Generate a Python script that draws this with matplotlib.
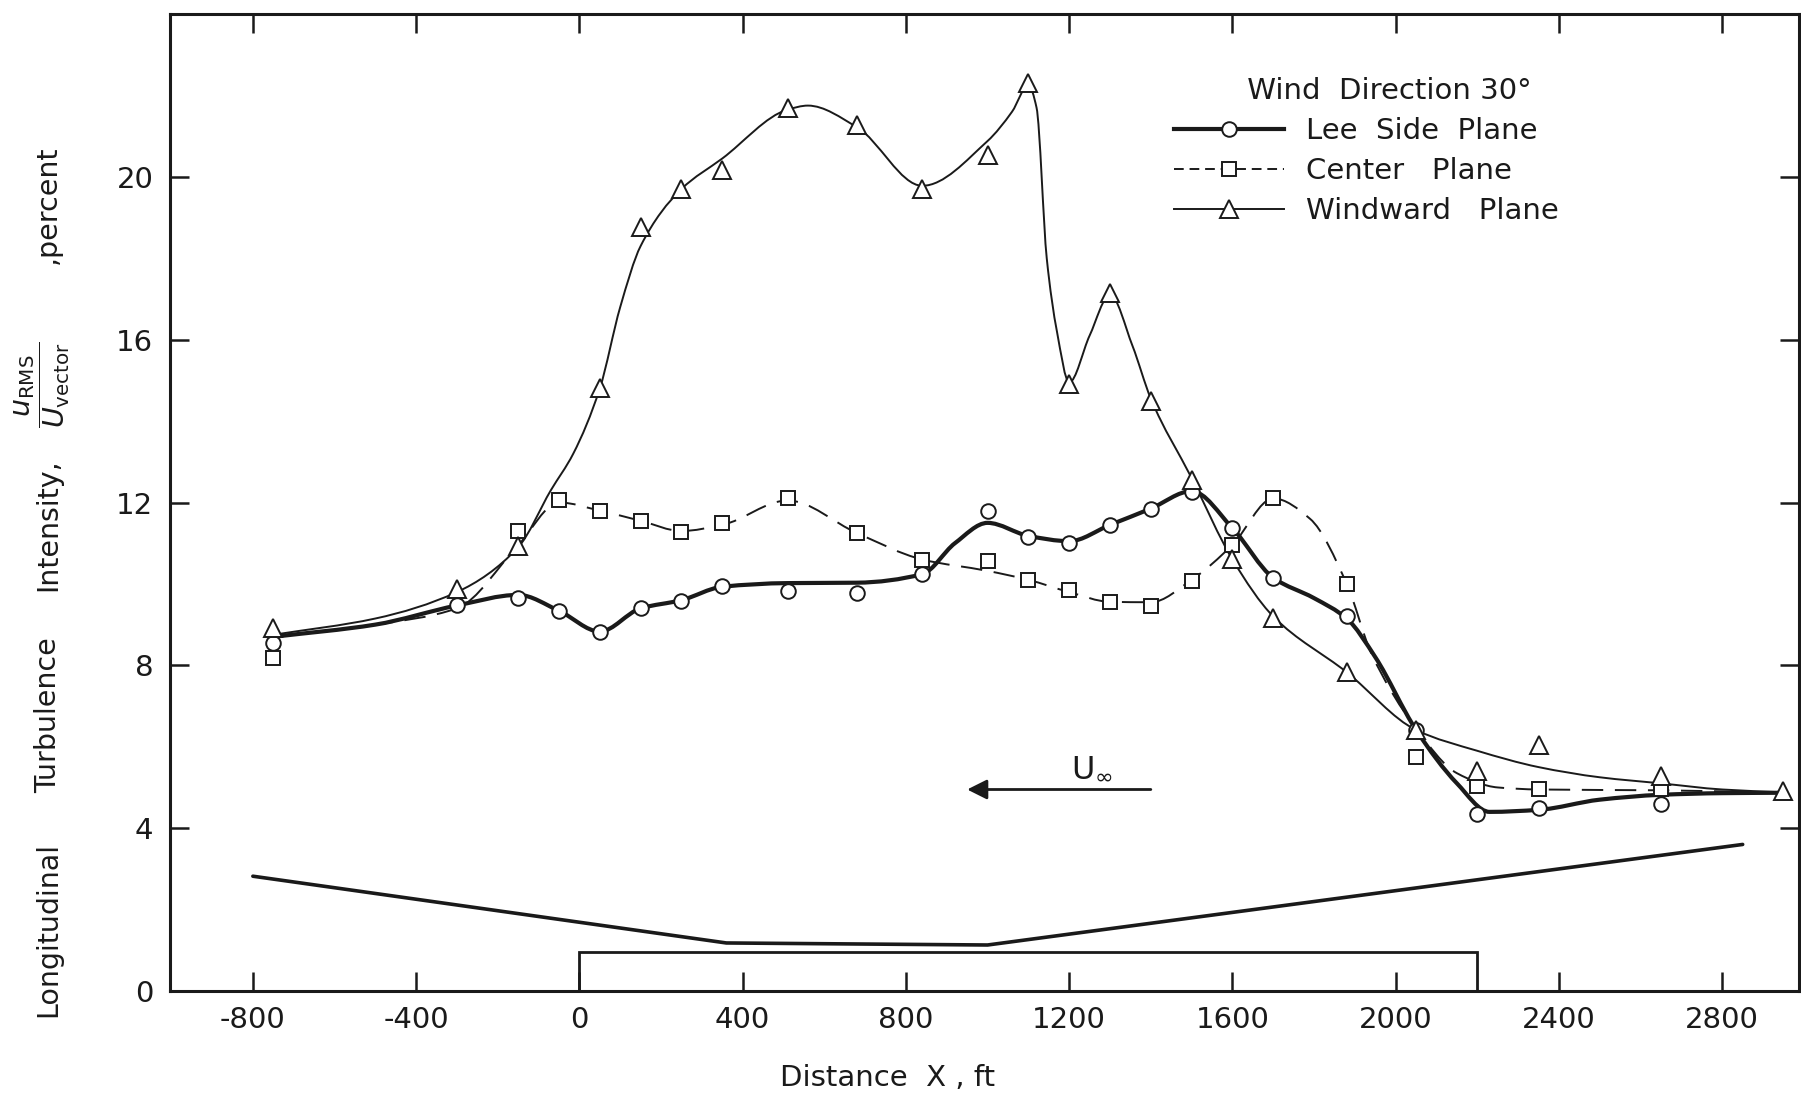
import numpy as np
import matplotlib
matplotlib.use('Agg')
import matplotlib.pyplot as plt
from matplotlib.path import Path
from matplotlib.patches import PathPatch, Rectangle
from matplotlib.lines import Line2D

plt.rcParams['font.family'] = ['DejaVu Sans']
plt.rcParams['mathtext.fontset'] = 'dejavusans'

# measured points (distance in ft, intensity in percent)
lee_x = [-750, -300, -150, -50, 50, 150, 250, 350, 510, 680, 840, 1000, 1100,
         1200, 1300, 1400, 1500, 1600, 1700, 1880, 2050, 2200, 2350, 2650]
lee_y = [8.55, 9.47, 9.65, 9.34, 8.83, 9.4, 9.57, 9.96, 9.83, 9.77, 10.24, 11.79, 11.16,
         11.0, 11.45, 11.84, 12.26, 11.37, 10.15, 9.2, 6.41, 4.35, 4.49, 4.6]

center_x = [-750, -150, -50, 50, 150, 250, 350, 510, 680, 840, 1000, 1100,
            1200, 1300, 1400, 1500, 1600, 1700, 1880, 2050, 2200, 2350, 2650]
center_y = [8.18, 11.3, 12.06, 11.79, 11.55, 11.28, 11.49, 12.1, 11.24, 10.59, 10.56, 10.1,
            9.85, 9.55, 9.45, 10.08, 10.96, 12.12, 10.0, 5.75, 5.04, 4.96, 4.96]

windward_x = [-750, -300, -150, 50, 150, 250, 350, 510, 680, 840, 1000, 1100,
              1200, 1300, 1400, 1500, 1600, 1700, 1880, 2050, 2200, 2350, 2650, 2950]
windward_y = [8.91, 9.88, 10.93, 14.81, 18.77, 19.69, 20.18, 21.69, 21.27, 19.69, 20.53, 22.3,
              14.9, 17.15, 14.5, 12.56, 10.6, 9.17, 7.83, 6.41, 5.4, 6.05, 5.28, 4.91]

# hand-faired curves
lee_curve_x = [-750, -500, -300, -150, -50, 50, 150, 250, 350, 510, 680, 840, 920, 1000,
               1100, 1200, 1300, 1400, 1500, 1600, 1700, 1800, 1880, 1950, 2050, 2150,
               2230, 2350, 2500, 2650, 2800, 2950]
lee_curve_y = [8.7, 9.0, 9.47, 9.73, 9.34, 8.83, 9.4, 9.6, 9.93, 10.02, 10.03, 10.24, 11.0, 11.5,
               11.18, 11.05, 11.45, 11.85, 12.28, 11.37, 10.15, 9.65, 9.15, 8.2, 6.41, 5.1,
               4.4, 4.45, 4.7, 4.82, 4.86, 4.87]

center_curve_x = [-750, -500, -300, -150, -50, 50, 150, 250, 350, 510, 680, 840, 1000, 1100,
                  1200, 1300, 1400, 1500, 1600, 1700, 1790, 1880, 1940, 2050, 2150, 2250,
                  2350, 2650, 2950]
center_curve_y = [8.7, 9.0, 9.4, 10.95, 12.0, 11.8, 11.55, 11.3, 11.45, 12.05, 11.25, 10.6,
                  10.32, 10.1, 9.8, 9.56, 9.55, 10.1, 10.96, 12.1, 11.6, 10.0, 8.3, 6.45, 5.35,
                  5.0, 4.95, 4.93, 4.87]

windward_curve_x = [-750, -500, -300, -150, -70, -15, 50, 100, 150, 250, 350, 510, 560, 680,
                    840, 1000, 1060, 1100, 1120, 1145, 1170, 1200, 1250, 1300, 1355, 1400,
                    1500, 1600, 1700, 1880, 2050, 2200, 2350, 2500, 2650, 2800, 2950]
windward_curve_y = [8.75, 9.15, 9.8, 10.9, 12.3, 13.2, 14.8, 16.8, 18.3, 19.7, 20.45, 21.65,
                    21.75, 21.22, 19.78, 20.88, 21.6, 22.25, 21.7, 18.0, 16.2, 14.95, 16.1,
                    17.1, 15.85, 14.55, 12.6, 10.6, 9.2, 7.83, 6.41, 5.9, 5.5, 5.25, 5.1,
                    4.95, 4.88]

# terrain profile and structure outline
terrain_x = [-800, 360, 1000, 2850]
terrain_y = [2.82, 1.18, 1.13, 3.6]
building_x = [0, 2200]
building_h = 0.95

# free stream arrow
arrow_x = [1400, 950]
arrow_y = 4.95

xticks = [-800, -400, 0, 400, 800, 1200, 1600, 2000, 2400, 2800]
xtick_labels = ['-800', '-400', '0', '400', '800', '1200', '1600', '2000', '2400', '2800']
yticks = [0, 4, 8, 12, 16, 20]


def faired_path(xs, ys):
    # monotone cubic tangents turned into bezier segments
    x = np.asarray(xs, float)
    y = np.asarray(ys, float)
    h = np.diff(x)
    d = np.diff(y) / h
    m = np.zeros_like(y)
    m[0], m[-1] = d[0], d[-1]
    for k in range(1, len(x) - 1):
        if d[k - 1] * d[k] > 0:
            w1 = 2 * h[k] + h[k - 1]
            w2 = h[k] + 2 * h[k - 1]
            m[k] = (w1 + w2) / (w1 / d[k - 1] + w2 / d[k])
    verts = [(x[0], y[0])]
    codes = [Path.MOVETO]
    for k in range(len(x) - 1):
        verts += [(x[k] + h[k] / 3, y[k] + m[k] * h[k] / 3),
                  (x[k + 1] - h[k] / 3, y[k + 1] - m[k + 1] * h[k] / 3),
                  (x[k + 1], y[k + 1])]
        codes += [Path.CURVE4] * 3
    return Path(verts, codes)


ink = '#1a1a1a'
fig = plt.figure(figsize=(18.01, 10.95), dpi=100)
ax = fig.add_axes([170 / 1801, 1 - 991 / 1095, 1629 / 1801, 977 / 1095])
ax.set_xlim(-1003, 2988)
ax.set_ylim(0, 24)

# curves
ax.add_patch(PathPatch(faired_path(windward_curve_x, windward_curve_y), fill=False,
                       edgecolor=ink, lw=1.4, zorder=2))
ax.add_patch(PathPatch(faired_path(center_curve_x, center_curve_y), fill=False,
                       edgecolor=ink, lw=1.4, linestyle=(0, (11, 6)), zorder=2))
ax.add_patch(PathPatch(faired_path(lee_curve_x, lee_curve_y), fill=False,
                       edgecolor=ink, lw=3.0, zorder=2))

# markers
mk = dict(linestyle='none', mfc='white', mec=ink, mew=1.4, zorder=4)
ax.plot(lee_x, lee_y, marker='o', ms=10.5, **mk)
ax.plot(center_x, center_y, marker='s', ms=9.5, **mk)
ax.plot(windward_x, windward_y, marker='^', ms=12.5, **mk)

# terrain and structure
ax.plot(terrain_x, terrain_y, color=ink, lw=2.6, solid_capstyle='round')
ax.add_patch(Rectangle((building_x[0], 0), building_x[1] - building_x[0], building_h,
                       fill=False, edgecolor=ink, lw=2.0))

# wind arrow
ax.annotate('', xy=(arrow_x[1], arrow_y), xytext=(arrow_x[0], arrow_y),
            arrowprops=dict(arrowstyle='-|>', color=ink, lw=2.0, mutation_scale=30,
                            shrinkA=0, shrinkB=0))
ax.text(1255, arrow_y + 0.3, r'$\mathrm{U}_{\infty}$', fontsize=23, ha='center',
        va='baseline', color=ink)

# axes styling
for s in ax.spines.values():
    s.set_linewidth(2.2)
    s.set_color(ink)
ax.set_xticks(xticks)
ax.set_xticklabels(xtick_labels)
ax.set_yticks(yticks)
ax.tick_params(direction='in', length=14, width=1.8, top=True, right=True,
               labelsize=21, colors=ink)
ax.tick_params(axis='x', pad=11)
ax.tick_params(axis='y', pad=12)

ax.set_xlabel('Distance  X , ft', fontsize=21, color=ink)
ax.xaxis.set_label_coords(0.4407, -0.075)

# y label pieces along the left margin
ylab = dict(rotation=90, fontsize=20.5, ha='center', va='center', color=ink)
fig.text(0.0267, 0.151, 'Longitudinal', **ylab)
fig.text(0.0267, 0.347, 'Turbulence', **ylab)
fig.text(0.0267, 0.5205, 'Intensity,', **ylab)
fig.text(0.0235, 0.6485, r'$\dfrac{u_{\mathrm{RMS}}}{U_{\mathrm{vector}}}$', **ylab)
fig.text(0.0267, 0.813, ',percent', **ylab)

# legend
handles = [
    Line2D([], [], color=ink, lw=3.0, marker='o', ms=10.5, mfc='white', mec=ink, mew=1.4),
    Line2D([], [], color=ink, lw=1.4, linestyle=(0, (5, 3)), marker='s', ms=9.5,
           mfc='white', mec=ink, mew=1.4),
    Line2D([], [], color=ink, lw=1.4, marker='^', ms=12.5, mfc='white', mec=ink, mew=1.4),
]
labels = ['Lee  Side  Plane', 'Center   Plane', 'Windward   Plane']
leg = ax.legend(handles, labels, title='     Wind  Direction 30°', loc='upper left',
                bbox_to_anchor=(0.6163, 0.936), frameon=False, numpoints=1,
                handlelength=3.77, handletextpad=0.76, labelspacing=0.42,
                borderpad=0, borderaxespad=0, fontsize=21, title_fontsize=21)
for t in leg.get_texts():
    t.set_color(ink)
leg.get_title().set_color(ink)

fig.savefig('out.png', dpi=100, facecolor='white')
